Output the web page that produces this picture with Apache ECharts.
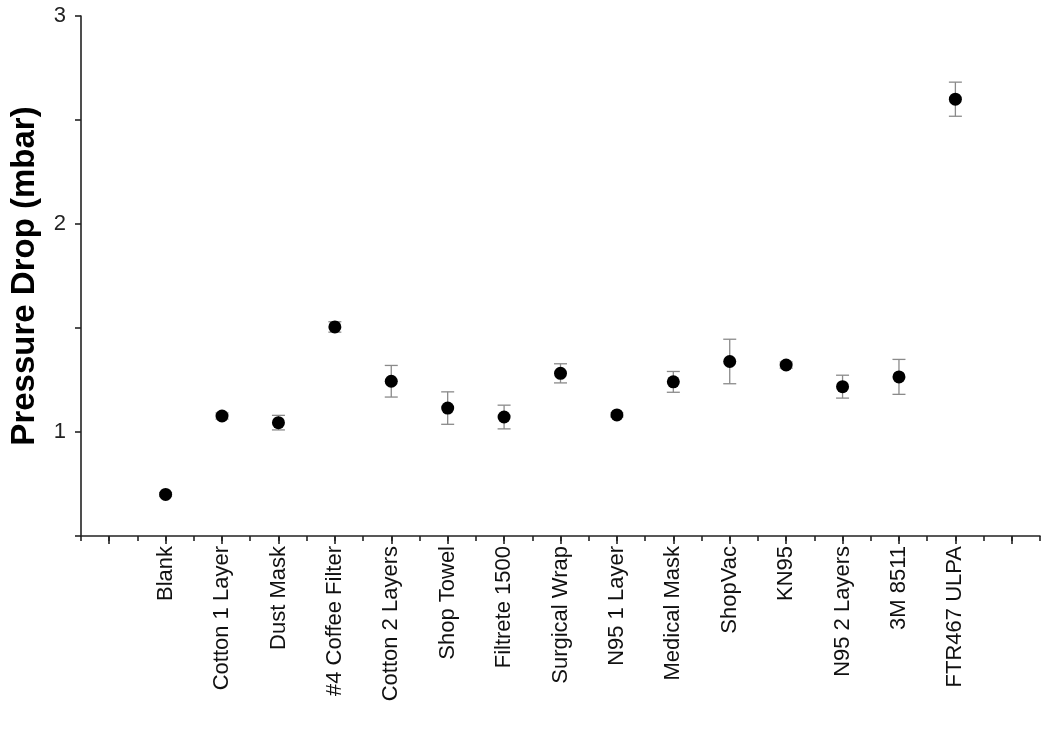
<!DOCTYPE html>
<html>
<head>
<meta charset="utf-8">
<script src="https://cdn.jsdelivr.net/npm/echarts@6/dist/echarts.min.js"></script>
<style>html,body{margin:0;padding:0;background:#fff}#c{width:1050px;height:735px}</style>
</head>
<body>
<div id="c"></div>
<script>
const categories = ['Blank','Cotton 1 Layer','Dust Mask','#4 Coffee Filter','Cotton 2 Layers','Shop Towel','Filtrete 1500','Surgical Wrap','N95 1 Layer','Medical Mask','ShopVac','KN95','N95 2 Layers','3M 8511','FTR467 ULPA'];
const pressureDrop = [0.70,1.077,1.045,1.505,1.244,1.115,1.072,1.282,1.082,1.241,1.339,1.322,1.218,1.265,2.60];
const errors = [0.008,0.015,0.035,0.025,0.076,0.078,0.057,0.046,0.01,0.05,0.107,0.015,0.055,0.084,0.082];
const yTickLabels = [1,2,3];

const axisCats = [''].concat(categories, ['']);
const points = pressureDrop.map((v,i)=>[i+1, v]);
const errData = pressureDrop.map((v,i)=>[i+1, v-errors[i], v+errors[i]]);

const chart = echarts.init(document.getElementById('c'));
const font = 'Liberation Sans, Arial, sans-serif';
chart.setOption({
  animation:false,
  backgroundColor:'#fff',
  grid:{left:77,top:16,right:10,bottom:199,containLabel:false},
  xAxis:[
    {type:'category',data:axisCats,boundaryGap:true,position:'bottom',
     axisLine:{show:true,lineStyle:{color:'#222',width:1.6}},
     axisTick:{show:true,alignWithLabel:true,interval:0,length:8,lineStyle:{color:'#222',width:1.6}},
     axisLabel:{interval:0,rotate:90,margin:10,fontSize:22,color:'#111',fontFamily:font},
     splitLine:{show:false}},
    {type:'value',min:-0.5,max:16.5,interval:0.5,position:'bottom',
     axisLine:{show:false},
     axisTick:{show:true,length:5,lineStyle:{color:'#222',width:1.6}},
     axisLabel:{show:false},splitLine:{show:false}}
  ],
  yAxis:[
    {type:'value',min:0.5,max:3,interval:0.5,
     name:'Pressure Drop (mbar)',nameLocation:'middle',nameGap:40,
     nameTextStyle:{fontSize:33,fontWeight:'bold',color:'#000',fontFamily:font},
     axisLine:{show:true,onZeroAxisIndex:0,lineStyle:{color:'#222',width:1.6}},
     axisTick:{show:true,length:6,lineStyle:{color:'#222',width:1.6}},
     axisLabel:{show:true,fontSize:22,color:'#222',margin:15,fontFamily:font,
       formatter:function(v){return yTickLabels.indexOf(v)>=0 ? String(v) : '';}},
     splitLine:{show:false}}
  ],
  series:[
    {type:'custom',xAxisIndex:1,yAxisIndex:0,data:errData,z:2,
     renderItem:function(params,api){
       const x=api.value(0);
       const lo=api.coord([x,api.value(1)]);
       const hi=api.coord([x,api.value(2)]);
       const w=6.5;
       const st={stroke:'#8a8a8a',lineWidth:1.3};
       return {type:'group',children:[
         {type:'line',shape:{x1:lo[0],y1:lo[1],x2:hi[0],y2:hi[1]},style:st},
         {type:'line',shape:{x1:lo[0]-w,y1:lo[1],x2:lo[0]+w,y2:lo[1]},style:st},
         {type:'line',shape:{x1:hi[0]-w,y1:hi[1],x2:hi[0]+w,y2:hi[1]},style:st}
       ]};
     }},
    {type:'scatter',xAxisIndex:1,yAxisIndex:0,data:points,symbol:'circle',symbolSize:13,z:5,
     itemStyle:{color:'#000',opacity:1}}
  ]
});
</script>
</body>
</html>
